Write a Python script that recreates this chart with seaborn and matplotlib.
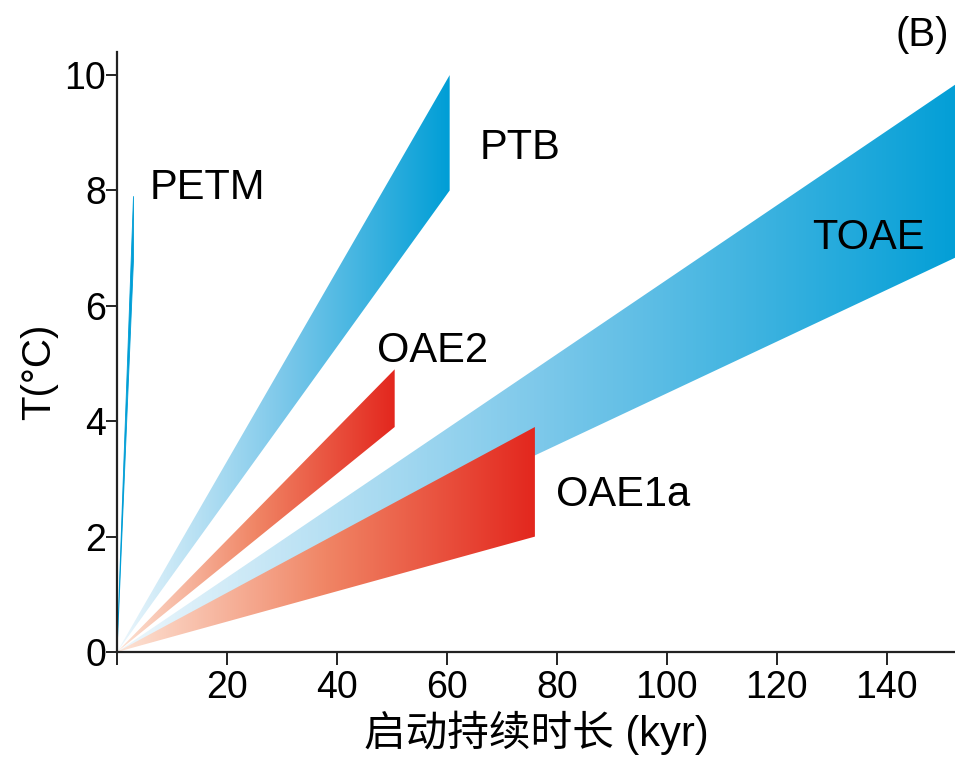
import numpy as np
import matplotlib
matplotlib.use("Agg")
import matplotlib.pyplot as plt
from matplotlib.patches import Polygon
from matplotlib.colors import LinearSegmentedColormap
import seaborn as sns

# Warming onset: each event is a wedge from the origin to its duration,
# spanning a temperature range at the end of the onset.
events = ["TOAE", "OAE1a", "OAE2", "PTB", "PETM"]
duration_kyr = [155, 76, 50.5, 60.5, 3]
temp_low = [6.95, 2.0, 3.9, 8.0, 6.8]
temp_high = [10.0, 3.9, 4.9, 10.0, 7.9]
family = ["blue", "red", "red", "blue", "blue"]

x_ticks = [0, 20, 40, 60, 80, 100, 120, 140]
x_tick_labels = ["", "20", "40", "60", "80", "100", "120", "140"]
y_ticks = [0, 2, 4, 6, 8, 10]

# text placement for the event names (data coordinates)
label_xy = {
    "PETM": (6.0, 8.05),
    "PTB": (66.0, 8.74),
    "OAE2": (47.3, 5.22),
    "OAE1a": (79.8, 2.72),
    "TOAE": (126.4, 7.18),
}

palette = {
    "blue": ["#eef7fc", "#7cc8ea", "#009ed6"],
    "red": ["#fde4d6", "#f08565", "#e3271e"],
}

sns.set_theme(style="ticks")
plt.rcParams["font.family"] = ["Liberation Sans", "Noto Sans CJK SC"]
plt.rcParams["axes.unicode_minus"] = False

fig = plt.figure(figsize=(9.55, 7.61), dpi=100)
ax = fig.add_axes([117 / 955, 1 - 652 / 761, 1 - 117 / 955, 600 / 761])

xmax, ymax = 152.4, 10.4

for name, dur, lo, hi, fam in zip(events, duration_kyr, temp_low, temp_high, family):
    verts = [(0, 0), (dur, lo), (dur, hi)]
    stops = palette[fam]
    if name == "PETM":
        ax.add_patch(Polygon(verts, closed=True, facecolor=stops[-1],
                             edgecolor=stops[-1], linewidth=0.6, zorder=2))
        continue
    clip = Polygon(verts, closed=True, facecolor="none", edgecolor="none")
    ax.add_patch(clip)
    cmap = LinearSegmentedColormap.from_list(name, stops)
    grad = np.linspace(0, 1, 256).reshape(1, -1)
    im = ax.imshow(grad, cmap=cmap, extent=[0, dur, 0, hi], origin="lower",
                   aspect="auto", interpolation="bilinear", zorder=2)
    im.set_clip_path(clip)

for name, (tx, ty) in label_xy.items():
    ax.text(tx, ty, name, fontsize=30, color="black", ha="left", va="center",
            zorder=4)

ax.set_xlim(0, xmax)
ax.set_ylim(0, ymax)
ax.set_xticks(x_ticks)
ax.set_xticklabels(x_tick_labels)
ax.set_yticks(y_ticks)
sns.despine(ax=ax)

for side in ("left", "bottom"):
    ax.spines[side].set_color("#222222")
    ax.spines[side].set_linewidth(1.6)
    ax.spines[side].set_zorder(5)

ax.tick_params(axis="x", direction="out", length=9, width=1.4, color="#222222",
               labelsize=27, labelcolor="black", pad=4)
ax.tick_params(axis="y", direction="out", length=8, width=1.4, color="#222222",
               labelsize=27, labelcolor="black", pad=0)

ax.set_xlabel("启动持续时长 (kyr)", fontsize=30, color="black", labelpad=3)
ax.set_ylabel("T(°C)", fontsize=29, color="black")
ax.yaxis.set_label_coords(-0.070, 0.467)

fig.text(0.966, 0.954, "(B)", fontsize=29, color="black", ha="center", va="center")

fig.savefig("out.png", dpi=100)
